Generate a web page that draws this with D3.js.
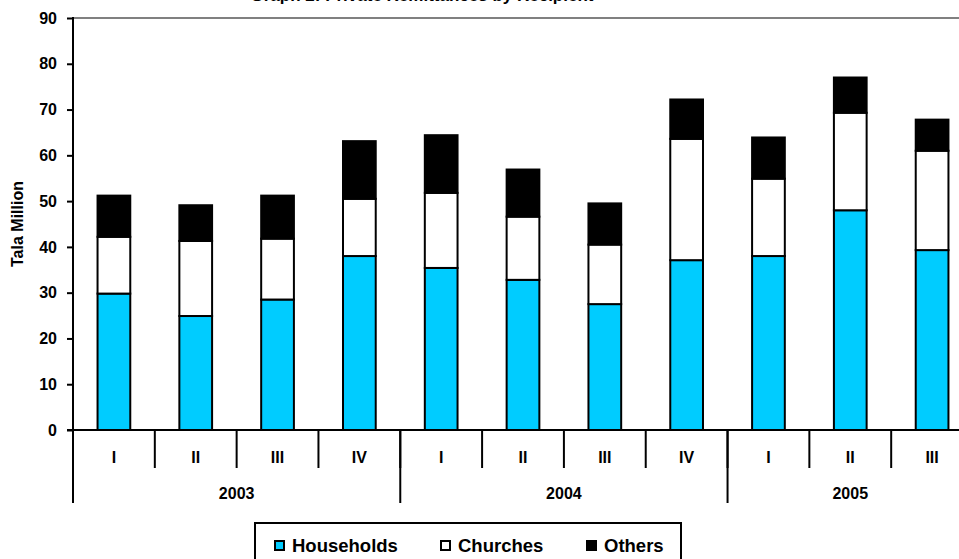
<!DOCTYPE html>
<html>
<head>
<meta charset="utf-8">
<script src="https://cdn.jsdelivr.net/npm/d3@7"></script>
<style>
  html, body { margin: 0; padding: 0; background: #fff; overflow: hidden; }
  svg { display: block; font-family: "Liberation Sans", Arial, sans-serif; font-weight: bold; }
</style>
</head>
<body>
<svg id="chart" width="959" height="559"></svg>
<script>
const quarters = ["I", "II", "III", "IV", "I", "II", "III", "IV", "I", "II", "III"];
const years = ["2003", "2004", "2005"];
const yearSpans = [4, 4, 3];
const households = [29.8, 24.9, 28.5, 38.0, 35.4, 32.8, 27.5, 37.1, 38.0, 48.0, 39.3];
const churches   = [12.4, 16.4, 13.3, 12.5, 16.4, 13.8, 13.0, 26.5, 16.9, 21.3, 21.7];
const others     = [ 9.0,  7.8,  9.4, 12.6, 12.6, 10.3,  9.0,  8.6,  9.0,  7.7,  6.8];
const seriesNames = ["Households", "Churches", "Others"];
const seriesColors = ["#00CCFF", "#FFFFFF", "#000000"];
const yTicks = [0, 10, 20, 30, 40, 50, 60, 70, 80, 90];
const titleText = "Graph 2: Private Remittances by Recipient";

const svg = d3.select("#chart");
const mLeft = 73, mRight = 973, mTop = 18, mBottom = 430;

const rows = quarters.map((q, i) => ({ i, Households: households[i], Churches: churches[i], Others: others[i] }));
const stacked = d3.stack().keys(seriesNames)(rows);

const x = d3.scaleBand().domain(d3.range(quarters.length)).range([mLeft, mRight]).paddingInner(0.6).paddingOuter(0.3);
const y = d3.scaleLinear().domain([0, 90]).range([mBottom, mTop]);
const step = x.step();

// title (clipped at top, as in the reference)
svg.append("text").attr("x", 422).attr("y", 0.5).attr("text-anchor", "middle")
  .attr("font-size", 17).text(titleText);

// top gray border
svg.append("line").attr("x1", mLeft).attr("x2", 959).attr("y1", mTop).attr("y2", mTop)
  .attr("stroke", "#808080").attr("stroke-width", 2);

// bars
svg.append("g").selectAll("g").data(stacked).join("g")
  .attr("fill", (d, k) => seriesColors[k])
  .selectAll("rect").data(d => d).join("rect")
  .attr("x", d => x(d.data.i))
  .attr("width", x.bandwidth())
  .attr("y", d => y(d[1]))
  .attr("height", d => y(d[0]) - y(d[1]))
  .attr("stroke", "#000").attr("stroke-width", 2);

// y axis
const yAxis = svg.append("g").attr("transform", `translate(${mLeft},0)`)
  .call(d3.axisLeft(y).tickValues(yTicks).tickSize(6).tickPadding(10).tickSizeOuter(0));
yAxis.select(".domain").remove();
yAxis.selectAll(".tick line").attr("stroke", "#000").attr("stroke-width", 2);
yAxis.selectAll(".tick text").attr("font-size", 16).attr("font-family", "Liberation Sans, Arial, sans-serif")
  .attr("font-weight", "bold").attr("fill", "#000");
svg.append("line").attr("x1", mLeft).attr("x2", mLeft).attr("y1", mTop - 1).attr("y2", 503)
  .attr("stroke", "#000").attr("stroke-width", 2);

// x axis line
svg.append("line").attr("x1", mLeft - 6).attr("x2", 959).attr("y1", mBottom).attr("y2", mBottom)
  .attr("stroke", "#000").attr("stroke-width", 2);

// quarter separators and labels
const xa = svg.append("g");
quarters.forEach((q, i) => {
  if (i > 0) {
    xa.append("line").attr("x1", mLeft + i * step).attr("x2", mLeft + i * step)
      .attr("y1", mBottom).attr("y2", 468).attr("stroke", "#000").attr("stroke-width", 2);
  }
  xa.append("text").attr("x", x(i) + x.bandwidth() / 2).attr("y", 463)
    .attr("text-anchor", "middle").attr("font-size", 16).text(q);
});
// year separators and labels
let acc = 0;
years.forEach((yr, k) => {
  const x0 = mLeft + acc * step;
  const x1 = mLeft + (acc + yearSpans[k]) * step;
  xa.append("line").attr("x1", x1).attr("x2", x1).attr("y1", mBottom).attr("y2", 503)
    .attr("stroke", "#000").attr("stroke-width", 2);
  xa.append("text").attr("x", (x0 + x1) / 2).attr("y", 499)
    .attr("text-anchor", "middle").attr("font-size", 16).text(yr);
  acc += yearSpans[k];
});

// y title
svg.append("text").attr("transform", "translate(23,224) rotate(-90)")
  .attr("text-anchor", "middle").attr("font-size", 16).text("Tala Million");

// legend
const lg = svg.append("g");
lg.append("rect").attr("x", 255).attr("y", 523).attr("width", 426).attr("height", 60)
  .attr("fill", "#fff").attr("stroke", "#000").attr("stroke-width", 2);
const legX = [275, 441, 587];
seriesNames.forEach((n, k) => {
  lg.append("rect").attr("x", legX[k]).attr("y", 541).attr("width", 9).attr("height", 9)
    .attr("fill", seriesColors[k]).attr("stroke", "#000").attr("stroke-width", 2);
  lg.append("text").attr("x", legX[k] + 17).attr("y", 552).attr("font-size", 18.5).text(n);
});
</script>
</body>
</html>
